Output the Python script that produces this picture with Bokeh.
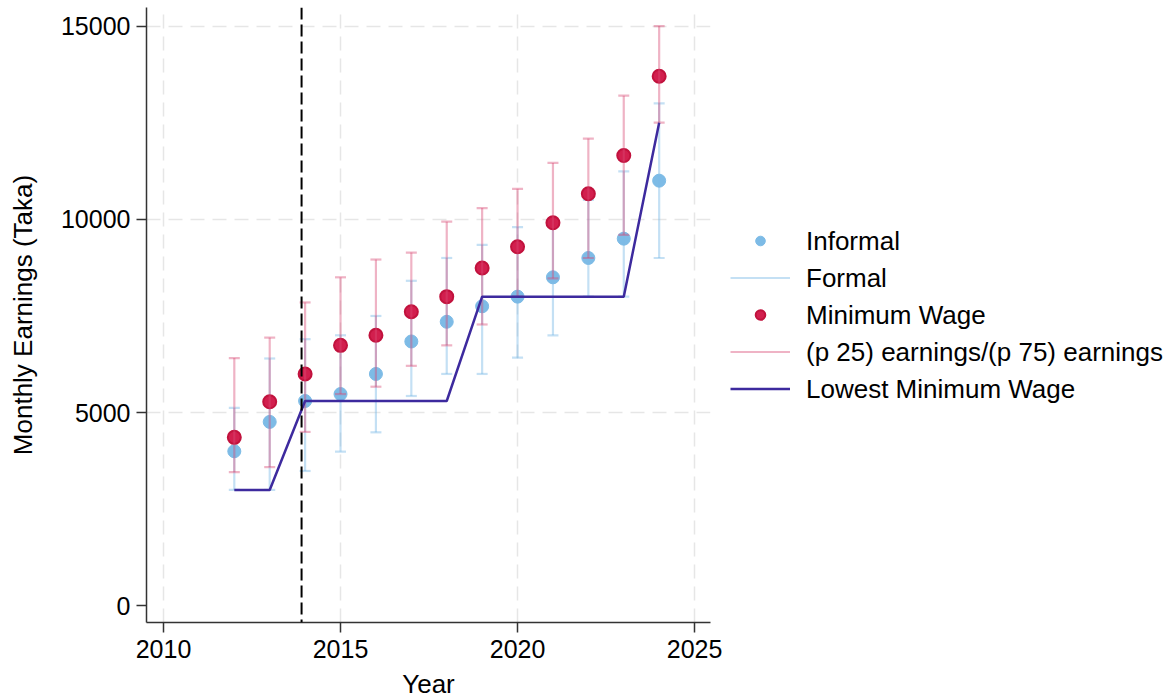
from bokeh.plotting import figure
from bokeh.models import Range1d, FixedTicker, Span, Legend, LegendItem, ColumnDataSource
from bokeh.embed import file_html
from bokeh.resources import INLINE

years = [2012, 2013, 2014, 2015, 2016, 2017, 2018, 2019, 2020, 2021, 2022, 2023, 2024]
informal = [4000, 4760, 5300, 5480, 6000, 6840, 7350, 7750, 8000, 8500, 9000, 9500, 11000]
formal_low = [3000, 3000, 3490, 3990, 4490, 5430, 6000, 6000, 6420, 7000, 8000, 8000, 9000]
formal_high = [5120, 6400, 6900, 7000, 7500, 8410, 9000, 9340, 9800, 9900, 10500, 11240, 13000]
min_wage = [4360, 5280, 6000, 6740, 7000, 7610, 8000, 8740, 9290, 9910, 10660, 11650, 13700]
p25 = [3460, 3590, 4500, 5480, 5670, 6210, 6740, 7280, 8000, 8470, 9000, 9600, 12500]
p75 = [6410, 6940, 7850, 8500, 8960, 9140, 9940, 10290, 10790, 11460, 12090, 13200, 15000]
lowest_mw = [3000, 3000, 5300, 5300, 5300, 5300, 5300, 8000, 8000, 8000, 8000, 8000, 12500]
policy_year = 2013.9

x_ticks = [2010, 2015, 2020, 2025]
y_ticks = [0, 5000, 10000, 15000]
y_grid = [5000, 10000, 15000]

FONT = "Liberation Sans"
BLUE = "#7dbbe6"
RED = "#d21f4e"
RED_LINE = "#c1123d"
PINK = "#d94a74"
PURPLE = "#3d2a9e"

src = ColumnDataSource(dict(year=years, informal=informal, flo=formal_low, fhi=formal_high,
                            mw=min_wage, p25=p25, p75=p75, low=lowest_mw))

p = figure(frame_width=564, frame_height=615, output_backend="svg", toolbar_location=None,
           x_range=Range1d(2009.52, 2025.45), y_range=Range1d(-430, 15480),
           min_border_left=146, min_border_top=7, min_border_bottom=60, min_border_right=0)
p.outline_line_color = None
p.background_fill_color = "white"

# grids
p.xgrid.ticker = FixedTicker(ticks=x_ticks)
p.ygrid.ticker = FixedTicker(ticks=y_grid)
for g in (p.xgrid[0], p.ygrid[0]):
    g.grid_line_color = "#e6e6e6"
    g.grid_line_width = 1.5
    g.grid_line_dash = "14 8"

# axes
p.xaxis.ticker = FixedTicker(ticks=x_ticks)
p.yaxis.ticker = FixedTicker(ticks=y_ticks)
for ax in (p.xaxis[0], p.yaxis[0]):
    ax.axis_line_color = "#333333"
    ax.axis_line_width = 1.5
    ax.major_tick_line_color = "#333333"
    ax.major_tick_line_width = 1.5
    ax.major_tick_out = 10
    ax.major_tick_in = 0
    ax.minor_tick_line_color = None
    ax.major_label_text_font = FONT
    ax.major_label_text_font_size = "25px"
    ax.major_label_text_color = "black"
    ax.axis_label_text_font = FONT
    ax.axis_label_text_font_size = "26px"
    ax.axis_label_text_font_style = "normal"
    ax.axis_label_text_color = "black"
p.xaxis.axis_label = "Year"
p.yaxis.axis_label = "Monthly Earnings (Taka)"
p.yaxis.major_label_orientation = "horizontal"
p.xaxis.major_label_standoff = 7
p.yaxis.major_label_standoff = 6
p.xaxis.axis_label_standoff = 8
p.yaxis.axis_label_standoff = 20

# policy line
p.add_layout(Span(location=policy_year, dimension="height", line_color="black",
                  line_width=2, line_dash="12 5"))

# informal dots
r_inf = p.scatter("year", "informal", source=src, size=13, fill_color=BLUE, line_color=BLUE)
# formal bars
r_fbar = p.segment("year", "flo", "year", "fhi", source=src, line_color=BLUE, line_alpha=0.45, line_width=2.2)
p.scatter("year", "flo", source=src, marker="dash", size=11, line_color=BLUE, line_alpha=0.45, line_width=2.2)
p.scatter("year", "fhi", source=src, marker="dash", size=11, line_color=BLUE, line_alpha=0.45, line_width=2.2)
# min wage dots
r_mw = p.scatter("year", "mw", source=src, size=13, fill_color=RED, line_color=RED_LINE, line_width=2)
# p25/p75 bars
r_pbar = p.segment("year", "p25", "year", "p75", source=src, line_color=PINK, line_alpha=0.42, line_width=2.2)
p.scatter("year", "p25", source=src, marker="dash", size=11, line_color=PINK, line_alpha=0.42, line_width=2.2)
p.scatter("year", "p75", source=src, marker="dash", size=11, line_color=PINK, line_alpha=0.42, line_width=2.2)
# lowest minimum wage
r_low = p.line("year", "low", source=src, line_color=PURPLE, line_width=2.5)

legend = Legend(items=[
    LegendItem(label="Informal", renderers=[r_inf]),
    LegendItem(label="Formal", renderers=[r_fbar]),
    LegendItem(label="Minimum Wage", renderers=[r_mw]),
    LegendItem(label="(p 25) earnings/(p 75) earnings", renderers=[r_pbar]),
    LegendItem(label="Lowest Minimum Wage", renderers=[r_low]),
], location="center_left")
legend.label_text_font = FONT
legend.label_text_font_size = "26px"
legend.label_text_color = "black"
legend.glyph_width = 60
legend.glyph_height = 24
legend.label_height = 30
legend.spacing = 6
legend.label_standoff = 16
legend.padding = 0
legend.margin = 20
legend.border_line_color = None
legend.background_fill_alpha = 0
p.add_layout(legend, "right")

open("out.html", "w").write(file_html(p, INLINE))
